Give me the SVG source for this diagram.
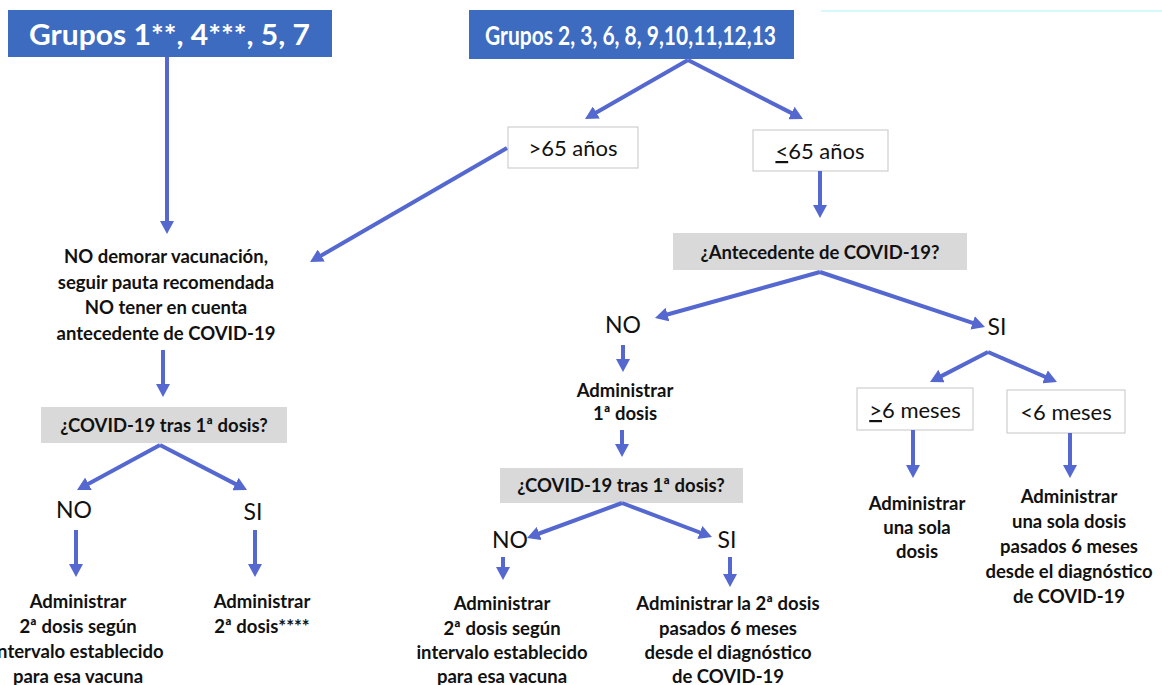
<svg xmlns="http://www.w3.org/2000/svg" width="1162" height="685" viewBox="0 0 1162 685">
<defs>
<marker id="ah" markerUnits="userSpaceOnUse" markerWidth="14" markerHeight="14" refX="3" refY="7" orient="auto">
<path d="M0,0 L13,7 L0,14 z" fill="#5468CF"/>
</marker>
<style>
.hdr{fill:#3C6BC0}
.ht{font-family:Lato,"Open Sans",sans-serif;font-weight:bold;font-size:28px;fill:#fff;text-anchor:middle}
.box{fill:#fff;stroke:#cfcfcf;stroke-width:1.2}
.grey{fill:#d9d9d9}
.r{font-family:Lato,"Open Sans",sans-serif;font-size:22px;fill:#111;text-anchor:middle}
.lab{font-family:Lato,"Open Sans",sans-serif;font-size:23px;fill:#111;text-anchor:middle}
.b{font-family:Lato,"Open Sans",sans-serif;font-weight:bold;font-size:18.5px;fill:#111;text-anchor:middle}
.c line{stroke:#5468CF;stroke-width:4;marker-end:url(#ah)}
</style>
</defs>
<rect width="1162" height="685" fill="#fff"/>
<line x1="821" y1="11" x2="1162" y2="11" stroke="#c6f6fa" stroke-width="1.5"/>

<g id="hdr1"><rect class="hdr" x="8" y="10" width="324" height="47"/><text class="ht" x="169.5" y="45" textLength="281" lengthAdjust="spacingAndGlyphs">Grupos 1**, 4***, 5, 7</text></g>
<g id="hdr2"><rect class="hdr" x="469" y="10" width="325" height="49"/><text class="ht" x="630.5" y="45" style="font-size:26px" textLength="291" lengthAdjust="spacingAndGlyphs">Grupos 2, 3, 6, 8, 9,10,11,12,13</text></g>

<g id="gt65"><rect class="box" x="508" y="127" width="130" height="41"/><text class="r" x="573" y="156">&gt;65 años</text></g>
<g id="le65"><rect class="box" x="753" y="130" width="135" height="41"/><text class="r" x="820" y="159"><tspan text-decoration="underline">&lt;</tspan>65 años</text></g>

<g id="nodemorar">
<text class="b" x="166" y="263">NO demorar vacunación,</text>
<text class="b" x="166" y="289">seguir pauta recomendada</text>
<text class="b" x="166" y="314">NO tener en cuenta</text>
<text class="b" x="166" y="340">antecedente de COVID-19</text>
</g>

<g id="q1"><rect class="grey" x="41" y="407" width="246" height="36"/><text class="b" x="164" y="432">¿COVID-19 tras 1ª dosis?</text></g>
<g id="no1"><text class="lab" x="74" y="518">NO</text></g>
<g id="si1"><text class="lab" x="253" y="520">SI</text></g>
<g id="adm2a">
<text class="b" x="78" y="608">Administrar</text>
<text class="b" x="78" y="633">2ª dosis según</text>
<text class="b" x="78" y="658">intervalo establecido</text>
<text class="b" x="78" y="683">para esa vacuna</text>
</g>
<g id="adm2b">
<text class="b" x="262" y="608">Administrar</text>
<text class="b" x="262" y="633">2ª dosis****</text>
</g>

<g id="antec"><rect class="grey" x="673" y="233" width="294" height="37"/><text class="b" x="820" y="259">¿Antecedente de COVID-19?</text></g>
<g id="no2"><text class="lab" x="623" y="333">NO</text></g>
<g id="si2"><text class="lab" x="997" y="335">SI</text></g>
<g id="adm1">
<text class="b" x="625" y="397">Administrar</text>
<text class="b" x="625" y="420">1ª dosis</text>
</g>
<g id="q2"><rect class="grey" x="500" y="468" width="243" height="35"/><text class="b" x="621" y="492">¿COVID-19 tras 1ª dosis?</text></g>
<g id="no3"><text class="lab" x="510" y="548">NO</text></g>
<g id="si3"><text class="lab" x="727" y="548">SI</text></g>
<g id="adm2c">
<text class="b" x="502" y="610">Administrar</text>
<text class="b" x="502" y="635">2ª dosis según</text>
<text class="b" x="502" y="659">intervalo establecido</text>
<text class="b" x="502" y="683">para esa vacuna</text>
</g>
<g id="adm2d">
<text class="b" x="728" y="610">Administrar la 2ª dosis</text>
<text class="b" x="728" y="635">pasados 6 meses</text>
<text class="b" x="728" y="659">desde el diagnóstico</text>
<text class="b" x="728" y="683">de COVID-19</text>
</g>

<g id="ge6"><rect class="box" x="857" y="388" width="116" height="42"/><text class="r" x="915" y="418"><tspan text-decoration="underline">&gt;</tspan>6 meses</text></g>
<g id="lt6"><rect class="box" x="1007" y="390" width="118" height="43"/><text class="r" x="1066" y="420">&lt;6 meses</text></g>
<g id="una">
<text class="b" x="917" y="510">Administrar</text>
<text class="b" x="917" y="534">una sola</text>
<text class="b" x="917" y="558">dosis</text>
</g>
<g id="una6">
<text class="b" x="1069" y="503">Administrar</text>
<text class="b" x="1069" y="528">una sola dosis</text>
<text class="b" x="1069" y="553">pasados 6 meses</text>
<text class="b" x="1069" y="578">desde el diagnóstico</text>
<text class="b" x="1069" y="603">de COVID-19</text>
</g>

<g id="connectors" class="c">
<line x1="167" y1="57" x2="167" y2="224"/>
<line x1="688" y1="60" x2="593.7" y2="114"/>
<line x1="688" y1="60" x2="794.1" y2="114.4"/>
<line x1="507" y1="148" x2="318.7" y2="257"/>
<line x1="820" y1="171" x2="820" y2="208"/>
<line x1="163" y1="350" x2="163" y2="387"/>
<line x1="160" y1="445" x2="85.8" y2="485.2"/>
<line x1="160" y1="445" x2="238.1" y2="485.4"/>
<line x1="76" y1="530" x2="76" y2="567"/>
<line x1="255" y1="530" x2="255" y2="567"/>
<line x1="820" y1="272" x2="664.6" y2="315.3"/>
<line x1="820" y1="272" x2="975.5" y2="323.8"/>
<line x1="623" y1="345" x2="623" y2="362"/>
<line x1="622" y1="430" x2="622" y2="447"/>
<line x1="622" y1="503" x2="536.4" y2="534.5"/>
<line x1="622" y1="503" x2="702.6" y2="533.5"/>
<line x1="503" y1="557" x2="503" y2="570"/>
<line x1="730" y1="557" x2="730" y2="577"/>
<line x1="988" y1="352" x2="938.9" y2="377.4"/>
<line x1="988" y1="352" x2="1047.8" y2="378"/>
<line x1="913" y1="430" x2="913" y2="468"/>
<line x1="1070" y1="433" x2="1070" y2="468"/>
</g>
</svg>
